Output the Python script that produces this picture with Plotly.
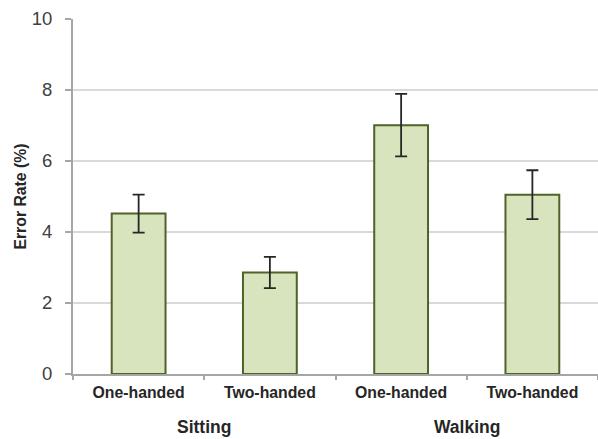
import plotly.graph_objects as go

# Error rate by posture and grip
conditions = ["One-handed", "Two-handed", "One-handed", "Two-handed"]
postures = ["Sitting", "Walking"]
error_rate = [4.52, 2.86, 7.01, 5.05]
error_sd = [0.535, 0.44, 0.88, 0.69]
y_ticks = [0, 2, 4, 6, 8, 10]

positions = list(range(len(conditions)))
boundaries = [p - 0.5 for p in positions] + [positions[-1] + 0.5]
group_centers = [0.5, 2.5]

FONT = "Liberation Sans, Arial, sans-serif"
AXIS_GRAY = "#a6a6a6"

fig = go.Figure()

fig.add_trace(go.Bar(
    x=positions,
    y=error_rate,
    width=0.41,
    marker=dict(color="#d7e4bd", line=dict(color="#4f6228", width=2)),
    error_y=dict(type="data", array=error_sd, visible=True,
                 color="#262626", thickness=1.8, width=6),
    showlegend=False,
    hoverinfo="skip",
))

# invisible trace on the secondary x axis so that its boundary ticks render
fig.add_trace(go.Scatter(
    x=[boundaries[0], boundaries[-1]], y=[0, 0], xaxis="x2",
    mode="markers", marker=dict(opacity=0), showlegend=False, hoverinfo="skip",
))

fig.update_layout(
    width=598, height=439,
    margin=dict(l=73, r=0, t=19, b=65),
    paper_bgcolor="white", plot_bgcolor="white",
    font=dict(family=FONT, color="#404040"),
    xaxis=dict(
        range=[boundaries[0], boundaries[-1]],
        tickvals=positions, ticktext=conditions,
        ticks="", showgrid=False, zeroline=False,
        showline=True, linecolor=AXIS_GRAY, linewidth=2,
        tickfont=dict(size=15.8, color="#262626", family=FONT, weight="bold"),
        ticklabelstandoff=3,
    ),
    xaxis2=dict(
        overlaying="x", side="bottom", anchor="y",
        range=[boundaries[0], boundaries[-1]],
        tickvals=boundaries, showticklabels=False,
        ticks="outside", ticklen=5, tickcolor=AXIS_GRAY, tickwidth=1.5,
        showgrid=False, zeroline=False, showline=False,
    ),
    yaxis=dict(
        range=[0, 10], tickvals=y_ticks,
        ticks="outside", ticklen=6, tickcolor=AXIS_GRAY, tickwidth=1.5,
        showgrid=True, gridcolor="#d9d9d9", gridwidth=1.5,
        zeroline=False, showline=True, linecolor=AXIS_GRAY, linewidth=2,
        tickfont=dict(size=18.5, color="#404040", family=FONT),
        ticklabelstandoff=9,
        title=dict(text="Error Rate (%)", standoff=1,
                   font=dict(size=15.8, color="#262626", family=FONT, weight="bold")),
    ),
)

for name, xc in zip(postures, group_centers):
    fig.add_annotation(
        x=xc, xref="x", y=0, yref="paper", yshift=-53,
        text=name, showarrow=False, yanchor="middle",
        font=dict(size=17.5, color="#262626", family=FONT, weight="bold"),
    )

fig.write_html("out.html")
